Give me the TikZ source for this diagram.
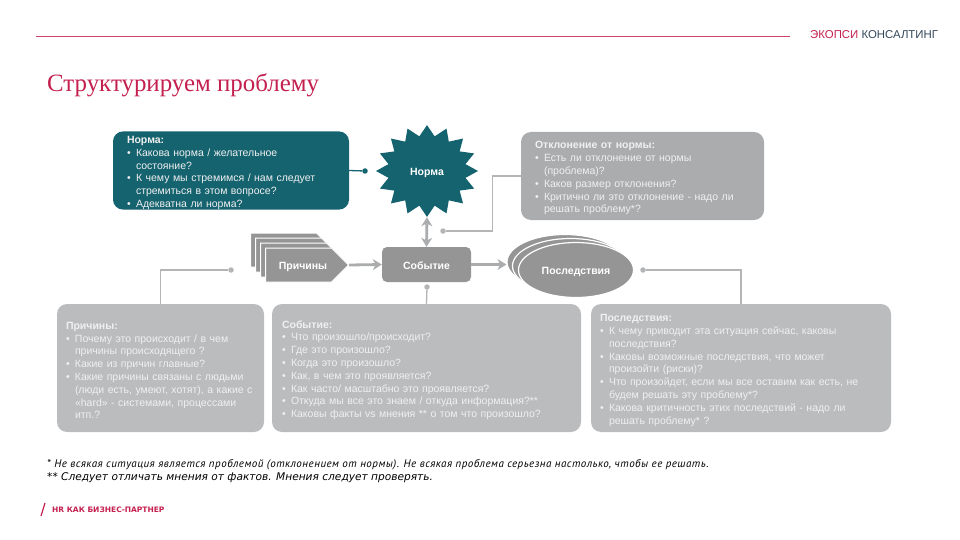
\documentclass[tikz,border=0pt]{standalone}
\usepackage{fontspec}
\setmainfont{Liberation Sans}
\newfontfamily\titlefont{Liberation Serif}
\newfontfamily\notefont[LetterSpace=4.5]{PT Sans}
\newfontfamily\widefont{DejaVu Sans}
\usetikzlibrary{arrows.meta,shapes.geometric,shapes.symbols}

\definecolor{teal1}{HTML}{14636F}
\definecolor{crimson}{HTML}{C4204F}
\definecolor{linegray}{HTML}{B4B5B7}
\definecolor{boxgray}{HTML}{ABACAE}
\definecolor{lightgray1}{HTML}{BBBCBE}
\definecolor{shapegray}{HTML}{959596}
\definecolor{navy1}{HTML}{33475B}

\newcommand{\bul}{\makebox[9pt][l]{•}}
\newcommand{\cont}{\hspace*{9pt}}
\newcommand{\boxhead}[1]{\rule{0pt}{12pt}\textbf{#1}}

\tikzset{
  textbox/.style={rounded corners=10pt, inner sep=0pt, align=left, text=white!88!gray,
    font=\fontsize{10.5}{12.8}\selectfont},
  shapelabel/.style={text=white, text height=10pt, text depth=1pt,
    font=\fontsize{10.5}{12}\selectfont\bfseries},
  linkline/.style={draw=linegray, line width=1.3pt},
  linkdot/.style={circle, fill=linegray, inner sep=0pt, minimum size=5.5pt},
  flowarrow/.style={draw=boxgray, line width=2.8pt, -{Stealth[length=9pt,width=11pt]}},
  pagesignal/.style={signal, signal to=east, fill=shapegray, draw=white, line width=1pt,
    minimum width=83pt, minimum height=34pt, inner sep=0pt},
  pageoval/.style={ellipse, fill=shapegray, draw=white, line width=1.2pt,
    minimum width=116pt, minimum height=55pt, inner sep=0pt}
}

\begin{document}
\begin{tikzpicture}[x=1pt,y=-1pt]
\useasboundingbox (0,0) rectangle (960,540);

% header
\draw[crimson!85!white, line width=1pt] (36,37) -- (790,37);
\node(brand)[anchor=west, inner sep=0pt, font=\fontsize{11.4}{12}\selectfont] at (810,35)
  {\textcolor{crimson}{ЭКОПСИ} \textcolor{navy1}{КОНСАЛТИНГ}};
\node(title)[anchor=west, inner sep=0pt, text=crimson, font=\fontsize{24.9}{28}\selectfont\titlefont] at (47,85)
  {Структурируем проблему};

% text boxes
\node(normtext)[textbox, fill=teal1, minimum width=236pt, minimum height=77pt, text width=208pt] at (231,170.5)
  {\boxhead{Норма:}\\
   \bul Какова норма / желательное\\
   \cont состояние?\\
   \bul К чему мы стремимся / нам следует\\
   \cont стремиться в этом вопросе?\\
   \bul Адекватна ли норма?};
\node(devtext)[textbox, fill=boxgray, minimum width=243pt, minimum height=88pt, text width=215pt] at (642.5,176)
  {\boxhead{Отклонение от нормы:}\\
   \bul Есть ли отклонение от нормы\\
   \cont (проблема)?\\
   \bul Каков размер отклонения?\\
   \bul Критично ли это отклонение - надо ли\\
   \cont решать проблему*?};
\node(causetext)[textbox, fill=lightgray1, minimum width=207pt, minimum height=128pt, text width=189pt] at (160.5,368)
  {\boxhead{Причины:}\\
   \bul Почему это происходит / в чем\\
   \cont причины происходящего ?\\
   \bul Какие из причин главные?\\
   \bul Какие причины связаны с людьми\\
   \cont (люди есть, умеют, хотят), а какие с\\
   \cont «hard» - системами, процессами\\
   \cont итп.?};
\node(eventtext)[textbox, fill=lightgray1, minimum width=309pt, minimum height=128pt, text width=289pt] at (426.5,368)
  {\boxhead{Событие:}\\
   \bul Что произошло/происходит?\\
   \bul Где это произошло?\\
   \bul Когда это произошло?\\
   \bul Как, в чем это проявляется?\\
   \bul Как часто/ масштабно это проявляется?\\
   \bul Откуда мы все это знаем / откуда информация?**\\
   \bul Каковы факты vs мнения ** о том что произошло?};
\node(constext)[textbox, fill=lightgray1, minimum width=300pt, minimum height=128pt, text width=282pt] at (741,368)
  {\boxhead{Последствия:}\\
   \bul К чему приводит эта ситуация сейчас, каковы\\
   \cont последствия?\\
   \bul Каковы возможные последствия, что может\\
   \cont произойти (риски)?\\
   \bul Что произойдет, если мы все оставим как есть, не\\
   \cont будем решать эту проблему*?\\
   \bul Какова критичность этих последствий -  надо ли\\
   \cont решать проблему* ?};

% center row
\node(normstar)[star, star points=16, star point ratio=1.3, fill=teal1, minimum size=102pt, inner sep=0pt, yscale=0.9, transform shape] at (427,171) {};
\node(normlabel)[shapelabel] at (427,171) {Норма};
\node(event)[rounded corners=5pt, fill=shapegray, minimum width=89pt, minimum height=35pt, inner sep=0pt, shapelabel] at (426.5,264.5) {Событие};

\foreach \i/\dy in {1/0,2/5,3/10}
  \node(cause\i)[pagesignal] at (283.5+\dy,250+\dy) {};
\node(cause4)[pagesignal, shapelabel] at (298.5,265) {\hspace*{9pt}Причины};
\node(cons1)[pageoval] at (565,262) {};
\node(cons2)[pageoval] at (570.5,266) {};
\node(cons3)[pageoval, shapelabel, minimum width=115pt] at (576,270) {Последствия};

% dots
\node(dotnorm)[linkdot, fill=teal1] at (365,171) {};
\node(dotdev)[linkdot] at (443,231) {};
\node(dotcause)[linkdot] at (231,270) {};
\node(dotevent)[linkdot] at (427,287) {};
\node(dotcons)[linkdot] at (643,270) {};

% connectors
\draw[draw=teal1, line width=1.3pt] (normtext.east) -- (dotnorm);
\draw[linkline] (devtext.west) -- ++(-28,0) |- (dotdev);
\draw[linkline] (dotcause) -| (causetext.north);
\draw[linkline] (dotevent) -- (eventtext.north);
\draw[linkline] (dotcons) -| (constext.north);

\draw[flowarrow, {Stealth[length=9pt,width=11pt]}-{Stealth[length=9pt,width=11pt]}] (normstar.south) -- (event.north);
\draw[flowarrow] (cause4.east) -- (event.west);
\draw[flowarrow] (event.east) -- (cons1.west |- event.east);

% notes
\node(note1)[anchor=west, inner sep=0pt, font=\fontsize{11}{12}\selectfont\notefont\itshape] at (47,465)
  {* Не всякая ситуация является проблемой (отклонением от нормы). Не всякая проблема серьезна настолько, чтобы ее решать.};
\node(note2)[anchor=west, inner sep=0pt, font=\fontsize{10.6}{12}\selectfont\widefont\itshape] at (47,478)
  {** Следует отличать мнения от фактов. Мнения следует проверять.};

% footer
\draw[crimson, line width=1.2pt] (41,516) -- (45,503);
\node(footer)[anchor=west, inner sep=0pt, text=crimson, font=\fontsize{7.5}{10}\selectfont\widefont\bfseries] at (52,510)
  {HR КАК БИЗНЕС-ПАРТНЕР};

\end{tikzpicture}
\end{document}
